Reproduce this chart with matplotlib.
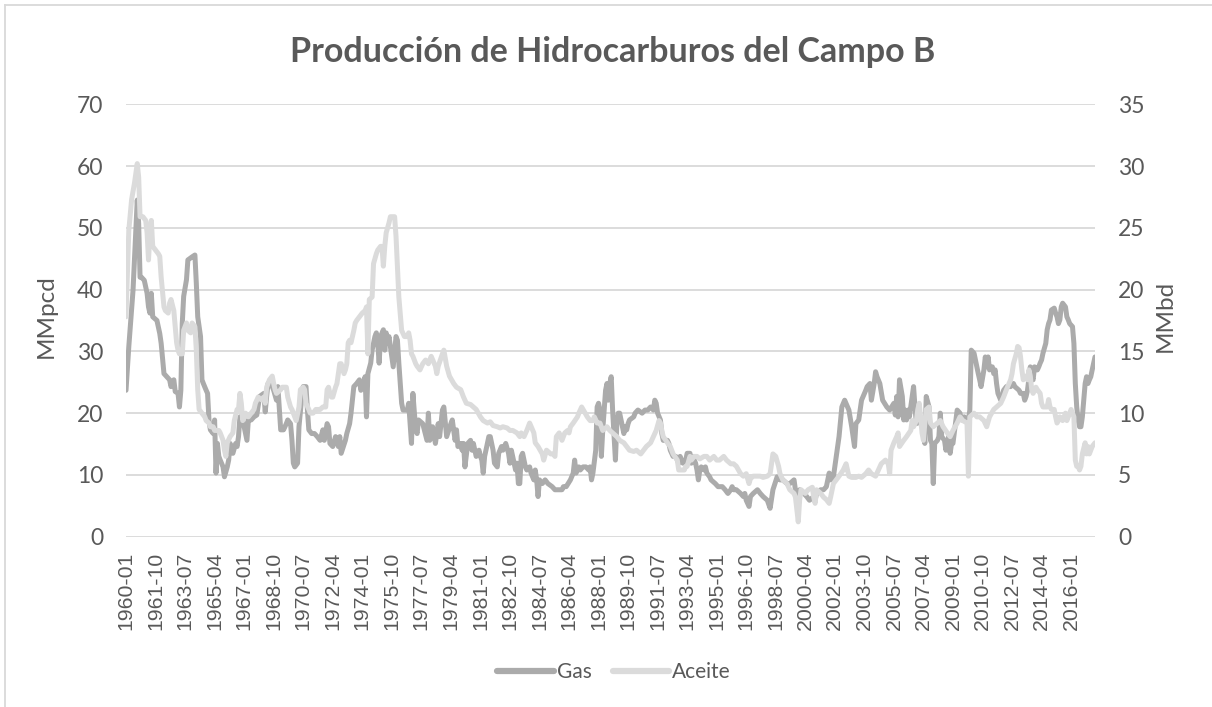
import matplotlib
matplotlib.use('Agg')
import matplotlib.pyplot as plt
from matplotlib.lines import Line2D

# Monthly production, field B.  Months are counted from 1960-01.
gas_month = [
    0, 2, 5, 8, 9, 10, 11, 13, 15, 16, 17, 18, 19, 22, 24, 25, 27, 29, 31, 32,
    34, 35, 37, 38, 39, 40, 41, 43, 44, 47, 49, 50, 51, 53, 54, 55, 57, 58, 59, 60,
    62, 63, 64, 65, 66, 67, 69, 70, 72, 73, 74, 76, 78, 79, 80, 81, 82, 83, 86, 87,
    89, 91, 93, 95, 98, 99, 100, 101, 104, 105, 107, 108, 110, 112, 114, 115, 117, 118, 119, 120,
    122, 123, 125, 126, 128, 129, 130, 132, 134, 136, 138, 140, 141, 143, 144, 145, 147, 149, 150, 151,
    152, 153, 156, 157, 159, 160, 162, 164, 166, 167, 169, 170, 171, 172, 174, 175, 177, 178, 179, 180,
    181, 183, 184, 185, 186, 187, 189, 190, 192, 193, 194, 195, 196, 197, 200, 201, 202, 203, 204, 206,
    207, 208, 211, 214, 215, 216, 218, 220, 222, 223, 225, 226, 228, 231, 232, 234, 235, 236, 238, 239,
    240, 241, 243, 245, 246, 247, 249, 251, 252, 253, 254, 255, 257, 258, 259, 261, 262, 264, 265, 267,
    268, 270, 272, 273, 274, 277, 278, 279, 280, 281, 282, 284, 285, 287, 288, 290, 291, 292, 293, 294,
    296, 298, 300, 303, 305, 307, 310, 311, 313, 316, 318, 319, 320, 322, 323, 325, 327, 329, 330, 331,
    332, 334, 335, 336, 337, 338, 339, 341, 342, 343, 344, 345, 346, 348, 349, 350, 351, 352, 354, 355,
    356, 357, 358, 361, 362, 364, 367, 369, 371, 373, 375, 376, 377, 378, 380, 381, 382, 385, 386, 387,
    389, 391, 392, 393, 394, 396, 398, 399, 401, 402, 403, 405, 406, 407, 408, 409, 411, 412, 413, 415,
    416, 419, 421, 424, 426, 428, 430, 431, 432, 434, 437, 439, 440, 441, 443, 444, 446, 449, 451, 453,
    456, 458, 460, 463, 465, 467, 470, 472, 475, 476, 477, 478, 479, 482, 484, 486, 489, 490, 491, 494,
    496, 498, 500, 501, 503, 505, 507, 509, 511, 514, 516, 518, 519, 521, 523, 526, 527, 529, 530, 532,
    533, 534, 536, 538, 541, 543, 546, 547, 548, 549, 550, 552, 553, 554, 555, 556, 557, 560, 561, 562,
    563, 565, 567, 568, 569, 571, 572, 573, 574, 575, 577, 578, 579, 580, 582, 583, 585, 586, 587, 588,
    591, 593, 594, 596, 599, 600, 601, 603, 604, 605, 606, 607, 608, 610, 611, 612, 613, 614, 616, 617,
    618, 619, 620, 622, 623, 624, 626, 629, 631, 632, 635, 636, 638, 639, 640, 641, 643, 644, 645, 646,
    648, 649, 650, 651, 652, 654, 655, 656, 657, 658, 660, 661, 662, 663, 664, 665, 666, 668, 669, 670,
    671, 673, 674, 675, 676, 677, 678, 679, 680, 682, 683, 684, 685, 686, 687, 689,
]
gas_mmpcd = [
    23.7, 30.8, 39.9, 54.5, 50.7, 42.0, 42.0, 41.5, 39.4, 37.2, 36.2, 39.4, 35.6, 35.0, 32.9, 31.3, 26.4, 25.9, 25.4, 24.3,
    25.4, 23.5, 23.2, 21.0, 23.7, 34.5, 38.9, 41.6, 44.8, 45.3, 45.6, 41.0, 35.6, 32.4, 25.4, 24.8, 23.7, 23.2, 18.9, 17.3,
    16.7, 18.9, 10.3, 15.1, 13.0, 12.4, 11.3, 9.7, 11.3, 12.4, 15.1, 13.5, 15.1, 14.6, 16.2, 19.4, 19.4, 18.9, 15.6, 18.9,
    18.9, 19.4, 19.7, 22.7, 23.2, 20.2, 22.7, 24.8, 24.3, 23.7, 22.1, 24.3, 17.3, 17.3, 18.3, 18.9, 18.3, 15.6, 11.9, 11.3,
    11.9, 17.8, 22.7, 24.3, 24.3, 20.5, 17.3, 16.7, 16.7, 16.2, 15.6, 17.3, 15.6, 18.3, 17.8, 15.1, 14.6, 16.2, 15.6, 14.6,
    16.2, 13.5, 15.6, 16.7, 18.3, 20.0, 24.3, 24.8, 25.4, 23.7, 24.8, 25.9, 19.4, 26.4, 28.1, 30.2, 32.4, 33.0, 31.3, 28.1,
    32.4, 33.5, 30.2, 33.0, 31.3, 32.4, 29.1, 27.5, 32.4, 31.8, 28.1, 24.8, 21.6, 20.5, 20.5, 21.6, 18.3, 15.1, 23.2, 17.3,
    16.7, 18.9, 18.3, 15.6, 20.0, 15.6, 17.8, 15.1, 18.3, 16.2, 20.5, 21.0, 16.2, 18.3, 18.9, 15.6, 17.3, 14.6, 15.1, 14.0,
    15.1, 11.3, 15.1, 15.6, 14.0, 15.1, 13.0, 14.0, 13.0, 12.4, 10.3, 13.0, 15.1, 16.2, 16.2, 14.0, 11.9, 11.3, 13.5, 14.6,
    14.0, 15.1, 13.5, 11.9, 14.0, 10.8, 11.9, 8.6, 8.6, 13.0, 13.5, 11.3, 10.8, 11.3, 10.3, 9.2, 10.8, 9.2, 6.5, 9.2,
    8.6, 9.2, 8.6, 8.1, 7.6, 7.6, 7.6, 8.1, 8.1, 9.2, 10.3, 12.4, 10.3, 11.3, 10.8, 11.3, 11.3, 10.8, 11.3, 9.2,
    10.3, 14.0, 21.0, 21.6, 20.5, 13.0, 17.3, 23.7, 24.8, 22.1, 24.8, 25.9, 20.5, 12.4, 18.3, 20.0, 20.0, 18.9, 16.7, 17.8,
    17.3, 18.3, 18.9, 19.4, 20.0, 20.5, 20.0, 20.5, 20.5, 21.0, 20.5, 22.1, 21.6, 20.0, 18.9, 16.7, 15.6, 15.6, 15.1, 14.0,
    13.0, 13.0, 12.4, 11.9, 13.0, 11.9, 12.4, 13.5, 13.5, 11.9, 13.0, 11.9, 10.8, 9.2, 10.8, 11.3, 10.8, 11.3, 10.3, 9.7,
    9.2, 8.6, 8.1, 8.1, 7.6, 7.0, 7.6, 8.1, 7.6, 7.6, 7.0, 6.5, 7.0, 5.9, 4.9, 6.5, 7.0, 7.6, 7.0, 6.5,
    5.9, 4.6, 7.6, 9.7, 9.2, 9.2, 8.6, 8.6, 9.2, 7.6, 5.9, 7.0, 7.6, 7.0, 6.5, 5.9, 6.5, 5.9, 7.0, 7.6,
    7.6, 8.1, 10.3, 9.2, 9.7, 13.0, 16.2, 21.0, 22.1, 20.5, 17.8, 14.6, 18.3, 18.9, 22.1, 23.7, 24.3, 24.8, 22.1, 24.8,
    26.7, 25.9, 24.8, 22.1, 21.0, 20.5, 21.6, 19.7, 22.7, 19.4, 25.4, 22.7, 18.9, 20.5, 18.9, 20.5, 19.4, 24.3, 21.0, 18.3,
    19.4, 18.3, 17.3, 15.1, 22.7, 21.0, 15.6, 15.1, 8.6, 15.1, 15.6, 16.2, 20.0, 16.2, 15.6, 14.0, 16.2, 13.5, 15.1, 15.1,
    20.5, 20.0, 18.9, 19.4, 18.9, 20.5, 30.2, 29.7, 28.6, 27.5, 26.4, 25.4, 24.3, 27.0, 29.1, 27.5, 29.1, 27.0, 27.5, 26.4,
    27.0, 24.8, 23.2, 22.1, 22.7, 23.7, 24.3, 24.3, 24.8, 24.3, 23.7, 23.2, 23.2, 22.1, 22.7, 23.7, 27.5, 25.9, 25.4, 27.5,
    27.0, 27.5, 28.1, 28.6, 29.7, 31.3, 33.5, 34.5, 35.1, 36.7, 37.0, 36.2, 35.6, 34.5, 35.1, 37.2, 37.8, 37.2, 35.6, 35.1,
    34.5, 34.0, 31.3, 24.8, 21.0, 18.9, 17.8, 17.8, 19.4, 24.8, 25.9, 24.8, 25.4, 25.9, 27.0, 29.1,
]

oil_month = [
    0, 2, 4, 6, 8, 9, 10, 12, 14, 15, 16, 17, 18, 19, 21, 23, 24, 25, 27, 28,
    30, 31, 32, 34, 35, 36, 37, 38, 40, 41, 43, 44, 46, 47, 49, 50, 51, 52, 54, 56,
    57, 59, 60, 62, 63, 66, 67, 69, 70, 71, 72, 74, 76, 77, 79, 80, 81, 82, 83, 85,
    87, 89, 91, 92, 94, 96, 98, 99, 100, 102, 104, 105, 106, 107, 110, 111, 114, 115, 117, 118,
    120, 121, 123, 124, 126, 127, 128, 130, 131, 133, 135, 138, 140, 142, 143, 144, 145, 146, 147, 149,
    150, 152, 153, 155, 156, 157, 158, 159, 160, 162, 163, 164, 166, 168, 170, 171, 172, 173, 175, 176,
    178, 179, 181, 182, 183, 184, 185, 187, 188, 190, 191, 192, 193, 194, 196, 198, 200, 201, 202, 203,
    204, 206, 207, 209, 211, 213, 215, 217, 220, 221, 222, 225, 226, 228, 230, 233, 235, 238, 240, 242,
    245, 247, 249, 252, 254, 257, 259, 261, 264, 266, 268, 271, 273, 275, 278, 280, 281, 283, 285, 287,
    290, 291, 293, 296, 297, 299, 302, 304, 305, 306, 308, 310, 312, 314, 315, 316, 318, 321, 322, 324,
    325, 328, 330, 332, 333, 335, 337, 339, 342, 344, 346, 349, 351, 354, 356, 358, 361, 363, 366, 368,
    370, 373, 375, 377, 379, 380, 381, 382, 385, 387, 389, 392, 393, 394, 397, 398, 399, 401, 402, 404,
    406, 408, 411, 413, 415, 418, 420, 422, 425, 427, 430, 432, 434, 437, 439, 441, 443, 444, 446, 449,
    451, 453, 456, 458, 460, 462, 464, 465, 467, 470, 472, 475, 476, 477, 478, 479, 480, 483, 485, 488,
    489, 490, 491, 494, 496, 498, 500, 501, 503, 505, 507, 510, 512, 513, 514, 516, 519, 521, 523, 526,
    528, 530, 533, 535, 537, 540, 542, 543, 544, 546, 548, 549, 550, 553, 555, 558, 559, 560, 562, 563,
    564, 565, 566, 567, 568, 569, 571, 572, 574, 577, 579, 581, 584, 586, 588, 591, 593, 595, 598, 599,
    600, 603, 605, 607, 610, 612, 614, 617, 619, 622, 624, 626, 629, 630, 631, 633, 634, 635, 636, 637,
    638, 640, 641, 642, 643, 644, 645, 647, 648, 650, 651, 652, 655, 656, 657, 658, 660, 661, 662, 663,
    664, 666, 668, 669, 670, 671, 672, 674, 675, 676, 677, 678, 679, 680, 682, 683, 684, 685, 686, 687,
    689,
]
oil_mmbd = [
    17.8, 24.8, 27.3, 28.6, 30.2, 29.1, 25.9, 25.9, 25.6, 24.6, 22.4, 24.6, 25.6, 23.5, 23.2, 22.9, 22.7, 21.0, 18.6, 18.3,
    18.1, 18.9, 19.2, 18.3, 17.0, 15.7, 15.1, 14.8, 14.8, 16.7, 17.3, 16.7, 16.5, 17.3, 17.0, 15.1, 11.9, 10.3, 10.0, 9.7,
    9.4, 9.2, 8.9, 8.9, 8.6, 8.6, 8.4, 7.8, 7.0, 6.5, 7.6, 8.1, 8.4, 9.4, 10.3, 10.3, 11.6, 10.8, 9.4, 10.0,
    9.7, 10.0, 10.3, 10.8, 11.3, 11.1, 11.3, 10.8, 12.1, 12.7, 13.0, 12.4, 11.9, 11.6, 11.9, 12.1, 12.1, 11.3, 10.5, 10.3,
    9.7, 9.4, 10.5, 11.9, 12.1, 11.9, 10.8, 10.3, 10.0, 10.0, 10.3, 10.3, 10.5, 10.5, 11.9, 12.1, 11.6, 11.3, 11.3, 12.1,
    12.4, 14.0, 14.0, 13.2, 13.5, 14.0, 15.7, 15.9, 15.7, 16.7, 17.3, 17.5, 17.8, 18.1, 18.3, 18.6, 14.8, 19.2, 19.4, 22.1,
    22.9, 23.2, 23.5, 23.5, 21.9, 23.5, 24.6, 25.4, 25.9, 25.9, 25.9, 24.3, 21.9, 19.4, 16.7, 16.2, 16.2, 16.5, 15.9, 14.8,
    14.6, 14.0, 13.8, 13.5, 14.0, 14.3, 14.0, 14.6, 13.8, 13.2, 13.8, 14.8, 15.1, 13.8, 13.0, 12.4, 12.1, 11.9, 11.3, 10.8,
    10.7, 10.5, 10.3, 9.7, 9.4, 9.2, 9.3, 9.0, 8.9, 8.8, 8.9, 8.8, 8.6, 8.6, 8.4, 8.1, 8.4, 8.1, 8.6, 9.2,
    8.4, 7.6, 7.3, 6.7, 6.2, 7.0, 6.7, 6.7, 6.5, 8.1, 8.4, 7.8, 8.4, 8.6, 8.4, 8.9, 9.2, 9.7, 10.0, 10.5,
    10.3, 9.7, 9.4, 9.4, 9.7, 9.2, 9.2, 8.6, 8.9, 8.6, 8.4, 8.1, 7.8, 7.6, 7.3, 7.0, 6.9, 7.0, 6.7, 7.0,
    7.3, 7.6, 8.1, 8.6, 9.4, 9.2, 8.6, 8.1, 7.6, 7.3, 6.7, 6.2, 5.4, 5.4, 5.4, 5.7, 5.7, 6.5, 6.2, 6.5,
    6.5, 6.3, 6.5, 6.5, 6.2, 6.5, 6.2, 6.2, 6.5, 6.2, 5.9, 5.9, 5.7, 5.1, 4.9, 5.1, 4.3, 4.7, 4.9, 4.9,
    4.9, 4.8, 4.9, 5.1, 6.7, 6.5, 5.7, 5.1, 4.6, 4.3, 3.8, 3.5, 3.2, 2.2, 1.2, 3.0, 3.8, 3.5, 3.8, 4.0,
    3.2, 2.7, 3.8, 3.5, 3.2, 3.0, 2.7, 3.2, 4.3, 4.6, 4.9, 5.4, 5.9, 5.4, 4.9, 4.8, 4.8, 4.9, 4.8, 5.1,
    5.4, 5.1, 4.9, 5.4, 5.9, 6.2, 5.9, 5.1, 7.0, 7.6, 8.1, 8.4, 7.3, 7.8, 8.1, 8.6, 9.4, 8.9, 9.4, 10.3,
    10.8, 9.7, 8.4, 7.8, 9.2, 10.3, 10.5, 9.2, 8.9, 9.2, 9.4, 8.9, 8.4, 8.1, 8.6, 9.2, 9.7, 9.4, 9.2, 4.9,
    9.7, 10.0, 9.7, 9.7, 9.4, 8.9, 9.7, 10.3, 10.5, 10.8, 11.3, 11.9, 12.7, 13.2, 14.0, 14.8, 15.4, 15.3, 14.6, 13.5,
    12.7, 13.0, 12.7, 13.5, 13.0, 11.9, 11.6, 12.1, 11.9, 11.6, 10.8, 10.5, 10.5, 11.1, 10.5, 10.3, 10.3, 9.7, 9.2, 9.4,
    9.7, 9.4, 10.0, 9.4, 9.7, 10.0, 10.3, 9.7, 6.2, 5.7, 5.7, 5.4, 5.7, 6.7, 7.6, 6.7, 7.3, 6.7, 7.0, 7.3,
    7.6,
]

# category labels shown on the horizontal axis (every 21 months)
tick_labels = [
    "1960-01", "1961-10", "1963-07", "1965-04", "1967-01", "1968-10", "1970-07",
    "1972-04", "1974-01", "1975-10", "1977-07", "1979-04", "1981-01", "1982-10",
    "1984-07", "1986-04", "1988-01", "1989-10", "1991-07", "1993-04", "1995-01",
    "1996-10", "1998-07", "2000-04", "2002-01", "2003-10", "2005-07", "2007-04",
    "2009-01", "2010-10", "2012-07", "2014-04", "2016-01",
]
last_label = "2017-06"


def month_index(label):
    year, month = label.split("-")
    return (int(year) - 1960) * 12 + int(month) - 1


tick_pos = [month_index(t) for t in tick_labels]

TEXT = "#595959"
GRID = "#D9D9D9"
GAS_COLOR = "#ABABAB"
OIL_COLOR = "#DBDBDB"
W, H = 1212, 707

fig = plt.figure(figsize=(W / 100, H / 100), dpi=100, facecolor="white")

# plot area in pixels: x 126..1095, y 104..537
ax = fig.add_axes([126 / W, 1 - 536.7 / H, (1095 - 126) / W, (536.7 - 104.3) / H])
ax2 = ax.twinx()

ax.plot(gas_month, gas_mmpcd, color=GAS_COLOR, lw=3.6, solid_joinstyle="round",
        solid_capstyle="round", zorder=3)
ax2.plot(oil_month, oil_mmbd, color=OIL_COLOR, lw=3.6, solid_joinstyle="round",
         solid_capstyle="round", zorder=3)

ax.set_xlim(0, month_index(last_label))
ax.set_ylim(0, 70)
ax2.set_ylim(0, 35)
ax.set_yticks(range(0, 71, 10))
ax2.set_yticks(range(0, 36, 5))

ax.yaxis.grid(True, color=GRID, lw=1.3)
ax.set_axisbelow(True)
for a in (ax, ax2):
    for s in a.spines.values():
        s.set_visible(False)

ax.set_xticks(tick_pos)
ax.set_xticklabels(tick_labels, rotation=90, fontsize=15.3, color=TEXT,
                   family="Liberation Sans", va="top", ha="center")
ax.tick_params(axis="x", length=0, pad=11)
ax.tick_params(axis="y", length=0, pad=16.5, labelsize=16.5, labelcolor=TEXT)
ax2.tick_params(axis="y", length=0, pad=16.5, labelsize=16.5, labelcolor=TEXT)
for lab in ax.get_yticklabels() + ax2.get_yticklabels():
    lab.set_family("Lato")

fig.text(46 / W, 1 - 316 / H, "MMpcd", rotation=90, ha="center", va="center",
         fontsize=17.5, color=TEXT, family="Lato")
fig.text(1165 / W, 1 - 316 / H, "MMbd", rotation=90, ha="center", va="center",
         fontsize=17.5, color=TEXT, family="Lato")

fig.text(613 / W, 1 - 52 / H, "Producción de Hidrocarburos del Campo B",
         ha="center", va="center", fontsize=24.5, fontweight="bold", color=TEXT,
         family="Lato")

handles = [Line2D([], [], color=GAS_COLOR, lw=4.5, solid_capstyle="round"),
           Line2D([], [], color=OIL_COLOR, lw=4.5, solid_capstyle="round")]
leg = fig.legend(handles, ["Gas", "Aceite"], loc="center",
                 bbox_to_anchor=(614 / W, 1 - 672 / H), ncol=2, frameon=False,
                 handlelength=2.7, handletextpad=0.15, columnspacing=1.0,
                 prop={"family": "Lato", "size": 15})
for t in leg.get_texts():
    t.set_color(TEXT)

# chart frame (only the top and left edges fall inside the image)
fig.add_artist(Line2D([5 / W, 1], [1 - 5 / H, 1 - 5 / H], color=GRID, lw=1.3,
                      transform=fig.transFigure))
fig.add_artist(Line2D([5 / W, 5 / W], [0, 1 - 5 / H], color=GRID, lw=1.3,
                      transform=fig.transFigure))

fig.savefig("out.png", dpi=100, facecolor="white")
